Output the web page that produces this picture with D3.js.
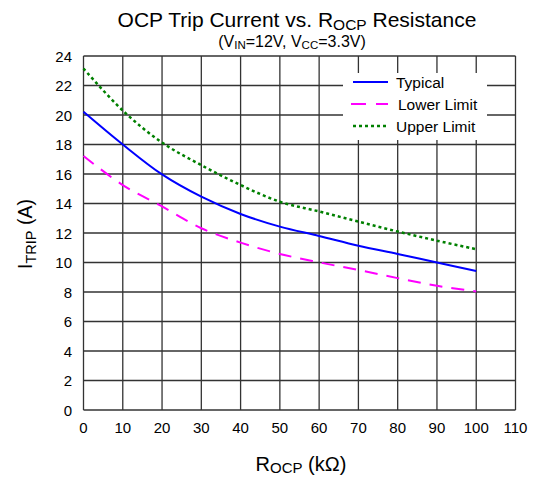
<!DOCTYPE html>
<html>
<head>
<meta charset="utf-8">
<script src="https://cdn.jsdelivr.net/npm/d3@7"></script>
<style>
  body { margin: 0; background: #fff; }
  text { font-family: "Liberation Sans", Arial, sans-serif; fill: #000; }
</style>
</head>
<body>
<svg width="540" height="479"></svg>
<script>
// R_OCP in kOhm, trip current in A
var rocp = [0, 10, 20, 30, 40, 50, 60, 70, 80, 90, 100];
var typical = [20.22, 18.0, 15.97, 14.46, 13.29, 12.43, 11.8, 11.14, 10.58, 10.0, 9.43];
var lower = [17.22, 15.25, 13.8, 12.32, 11.35, 10.58, 10.01, 9.49, 8.94, 8.42, 8.04];
var upper = [23.15, 20.3, 18.13, 16.6, 15.25, 14.12, 13.46, 12.77, 12.1, 11.48, 10.9];

var xTicks = d3.range(0, 111, 10);
var yTicks = d3.range(0, 25, 2);

var series = [
  { name: "Typical", values: typical, color: "#0000ff", dash: null, width: 2 },
  { name: "Lower Limit", values: lower, color: "#ff00ff", dash: "13,9", width: 2 },
  { name: "Upper Limit", values: upper, color: "#008000", dash: "3,3", width: 2.5 }
];

var svg = d3.select("svg");
var x = d3.scaleLinear().domain([0, 110]).range([83.5, 515.5]);
var y = d3.scaleLinear().domain([0, 24]).range([410, 56]);

// grid
svg.append("g").selectAll("line").data(xTicks).enter().append("line")
  .attr("x1", d => x(d)).attr("x2", d => x(d))
  .attr("y1", y(0)).attr("y2", y(24))
  .attr("stroke", "#333").attr("stroke-width", 1.3);
svg.append("g").selectAll("line").data(yTicks).enter().append("line")
  .attr("x1", x(0)).attr("x2", x(110))
  .attr("y1", d => y(d)).attr("y2", d => y(d))
  .attr("stroke", "#333").attr("stroke-width", 1.3);

// tick labels
svg.append("g").selectAll("text").data(xTicks).enter().append("text")
  .attr("x", d => x(d)).attr("y", 433)
  .attr("text-anchor", "middle").attr("font-size", 15)
  .text(d => d);
svg.append("g").selectAll("text").data(yTicks).enter().append("text")
  .attr("x", 72).attr("y", d => y(d) + 5.5)
  .attr("text-anchor", "end").attr("font-size", 15)
  .text(d => d);

// curves
var line = d3.line()
  .x((d, i) => x(rocp[i]))
  .y(d => y(d))
  .curve(d3.curveCatmullRom);

svg.append("g").selectAll("path").data(series).enter().append("path")
  .attr("d", d => line(d.values))
  .attr("fill", "none")
  .attr("stroke", d => d.color)
  .attr("stroke-width", d => d.width)
  .attr("stroke-dasharray", d => d.dash);

// legend
var legend = svg.append("g");
legend.append("rect")
  .attr("x", 343).attr("y", 73).attr("width", 144).attr("height", 67)
  .attr("fill", "#fff");
var item = legend.selectAll("g").data(series).enter().append("g")
  .attr("transform", (d, i) => "translate(0," + [82, 104, 126][i] + ")");
item.append("line")
  .attr("x1", (d, i) => i == 1 ? 351 : 353).attr("x2", 388)
  .attr("y1", 0).attr("y2", 0)
  .attr("stroke", d => d.color)
  .attr("stroke-width", d => d.width)
  .attr("stroke-dasharray", d => d.dash == "13,9" ? "15,10" : d.dash);
item.append("text")
  .attr("x", (d, i) => i == 1 ? 398 : 396).attr("y", 5.5)
  .attr("font-size", 15.5)
  .text(d => d.name);

// titles
var title = svg.append("text").attr("x", 297).attr("y", 27)
  .attr("text-anchor", "middle").attr("font-size", 21);
title.append("tspan").text("OCP Trip Current vs. R");
title.append("tspan").attr("font-size", 15.5).attr("dy", 3).text("OCP");
title.append("tspan").attr("dy", -3).text(" Resistance");

var sub = svg.append("text").attr("x", 292).attr("y", 47)
  .attr("text-anchor", "middle").attr("font-size", 16);
sub.append("tspan").text("(V");
sub.append("tspan").attr("font-size", 11.5).attr("dy", 2).text("IN");
sub.append("tspan").attr("dy", -2).text("=12V, V");
sub.append("tspan").attr("font-size", 11.5).attr("dy", 2).text("CC");
sub.append("tspan").attr("dy", -2).text("=3.3V)");

var xl = svg.append("text").attr("x", 301).attr("y", 471)
  .attr("text-anchor", "middle").attr("font-size", 20);
xl.append("tspan").text("R");
xl.append("tspan").attr("font-size", 15).attr("dy", 2).text("OCP");
xl.append("tspan").attr("dy", -2).text(" (k\u03a9)");

var yl = svg.append("text")
  .attr("transform", "translate(32,234) rotate(-90)")
  .attr("text-anchor", "middle").attr("font-size", 19.5);
yl.append("tspan").text("I");
yl.append("tspan").attr("font-size", 14.5).attr("dy", 4).text("TRIP");
yl.append("tspan").attr("dy", -4).text(" (A)");
</script>
</body>
</html>
